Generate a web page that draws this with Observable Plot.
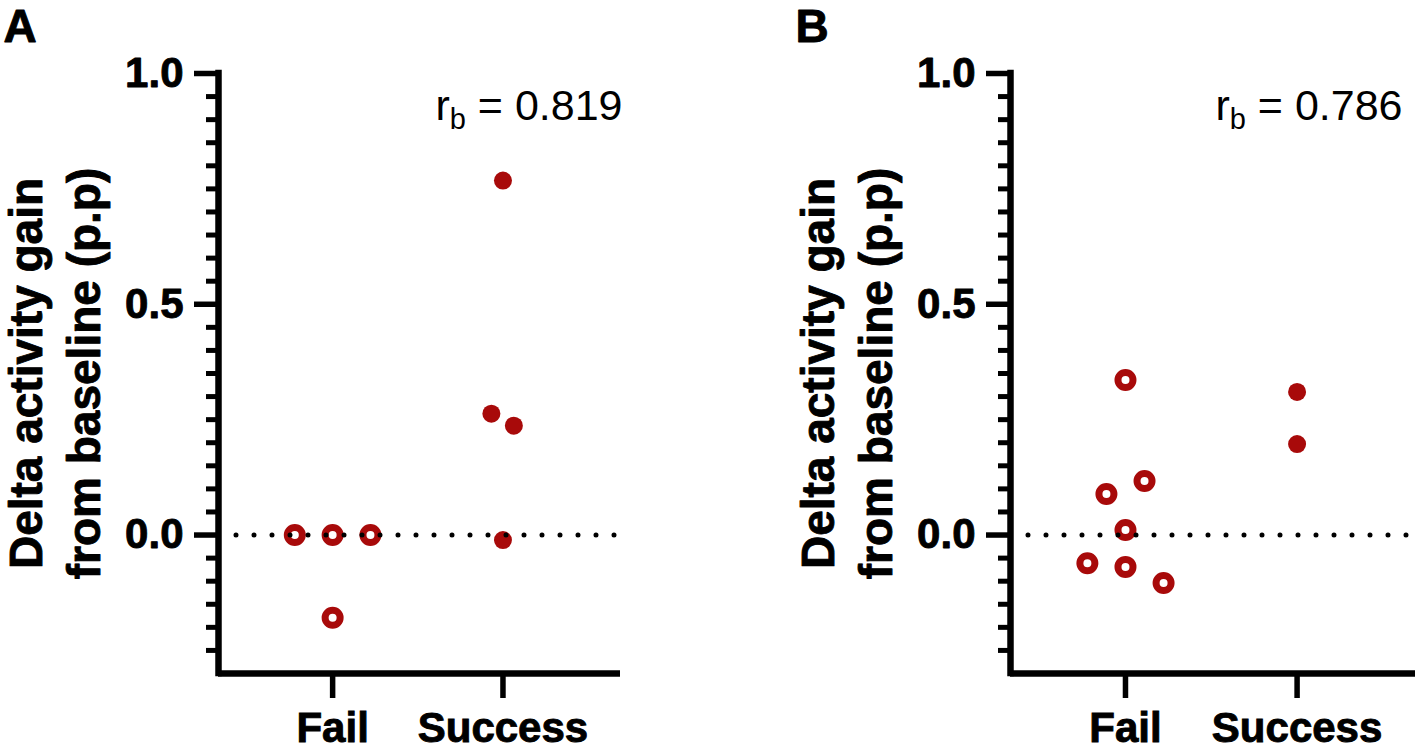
<!DOCTYPE html>
<html><head><meta charset="utf-8">
<script src="https://cdn.jsdelivr.net/npm/d3@7"></script>
<script src="https://cdn.jsdelivr.net/npm/@observablehq/plot@0.6"></script>
<style>
html,body{margin:0;padding:0;background:#fff;}
#wrap{display:flex;width:1417px;height:751px;overflow:hidden;}
#wrap > svg{flex-shrink:0;overflow:visible;max-width:none;}
</style></head><body><div id="wrap"></div>
<script>
// categories and tick positions
const groups = ["Fail", "Success"];
const groupPos = [1, 2];
const majorTicks = [0, 0.5, 1.0];
const minorTicks = [-0.25, -0.2, -0.15, -0.1, -0.05, 0.05, 0.1, 0.15, 0.2, 0.25, 0.3, 0.35, 0.4, 0.45,
                    0.55, 0.6, 0.65, 0.7, 0.75, 0.8, 0.85, 0.9, 0.95];
const yLabel = "Delta activity gain\nfrom baseline (p.p)";

// Panel A
const aGroup  = ["Fail", "Fail", "Fail", "Fail", "Success", "Success", "Success", "Success"];
const aValue  = [0, 0, 0, -0.179, 0.768, 0.263, 0.237, -0.011];
const aJitter = [-0.222, 0, 0.222, 0, 0, -0.068, 0.064, 0];
const aRb = "0.819";

// Panel B
const bGroup  = ["Fail", "Fail", "Fail", "Fail", "Fail", "Fail", "Fail", "Success", "Success"];
const bValue  = [0.336, 0.117, 0.089, 0.011, -0.061, -0.069, -0.104, 0.310, 0.197];
const bJitter = [0, 0.111, -0.111, 0, -0.222, 0, 0.222, 0, 0];
const bRb = "0.786";

const RED = "#a80a0a";
const FONT = "'Liberation Sans', Arial, Helvetica, sans-serif";

function panel({letter, grp, values, jitter, rb, width, marginRight, rbDx}) {
  const data = values.map((v, i) => ({
    group: grp[i],
    pos: groupPos[groups.indexOf(grp[i])] + jitter[i],
    value: v
  }));
  const fail = data.filter(d => d.group === "Fail");
  const succ = data.filter(d => d.group === "Success");
  const rbText = "rb = " + rb;
  const xDomain = [0.33, 2.69];
  const yDomain = [-0.3, 1.0];
  const bold = {fontWeight: "bold", fill: "black", stroke: "black", strokeWidth: 0.9};
  const svg = Plot.plot({
    width, height: 751,
    marginLeft: 218, marginRight, marginTop: 73, marginBottom: 78,
    style: {fontFamily: FONT, background: "white", overflow: "visible"},
    x: {domain: xDomain},
    y: {domain: yDomain},
    marks: [
      Plot.dot(fail, {x: "pos", y: "value", r: 7.5, stroke: RED, strokeWidth: 7, fill: "white"}),
      Plot.dot(succ, {x: "pos", y: "value", r: 9, fill: RED, stroke: "none"}),
      Plot.ruleY([0], {stroke: "black", strokeWidth: 5, strokeDasharray: "0 18", strokeLinecap: "round"}),
      Plot.axisY(minorTicks, {tickSize: 12, strokeWidth: 5, tickFormat: () => "", label: null}),
      Plot.axisY(majorTicks, {tickSize: 24, strokeWidth: 5.5, tickPadding: 11, fontSize: 42,
                              fontWeight: "bold", fill: "black", textStroke: "black",
                              tickFormat: d3.format(".1f"), label: null}),
      Plot.axisX(groupPos, {tickSize: 25, strokeWidth: 5.5, tickPadding: 14, fontSize: 42,
                            fontWeight: "bold", fill: "black",
                            tickFormat: d => groups[d - 1], label: null}),
      Plot.ruleX([xDomain[0]], {stroke: "black", strokeWidth: 6.5, strokeLinecap: "square"}),
      Plot.ruleY([yDomain[0]], {stroke: "black", strokeWidth: 6.5}),
      Plot.text([yLabel], {frameAnchor: "left", rotate: -90, dx: -119, textAnchor: "middle", lineAnchor: "bottom",
                           lineHeight: 1.24, fontSize: 46, ...bold}),
      Plot.text([letter], {frameAnchor: "top-left", dx: -215, dy: -32, textAnchor: "start", lineAnchor: "bottom",
                           fontSize: 46, ...bold}),
      Plot.text([rbText], {frameAnchor: "top-right", dx: rbDx, dy: 46, textAnchor: "end", lineAnchor: "bottom",
                           fontSize: 43, fill: "black"})
    ]
  });
  // thicken tick labels slightly to match the heavy reference type
  d3.select(svg).selectAll('g[aria-label="y-axis tick label"] text, g[aria-label="x-axis tick label"] text')
    .attr("stroke", "black").attr("stroke-width", 0.9).attr("paint-order", "stroke");
  d3.select(svg).selectAll("text").filter(function() { return this.textContent === rbText; }).each(function() {
    const t = d3.select(this);
    t.text(null);
    t.append("tspan").text("r");
    t.append("tspan").attr("dy", 9).attr("font-size", 29).text("b");
    t.append("tspan").attr("dy", -9).text(" = " + rb);
  });
  return svg;
}

const wrap = document.getElementById("wrap");
wrap.appendChild(panel({letter: "A", grp: aGroup, values: aValue, jitter: aJitter, rb: aRb,
                        width: 792, marginRight: 172, rbDx: 2}));
wrap.appendChild(panel({letter: "B", grp: bGroup, values: bValue, jitter: bJitter, rb: bRb,
                        width: 625, marginRight: 2, rbDx: -13}));
</script></body></html>
